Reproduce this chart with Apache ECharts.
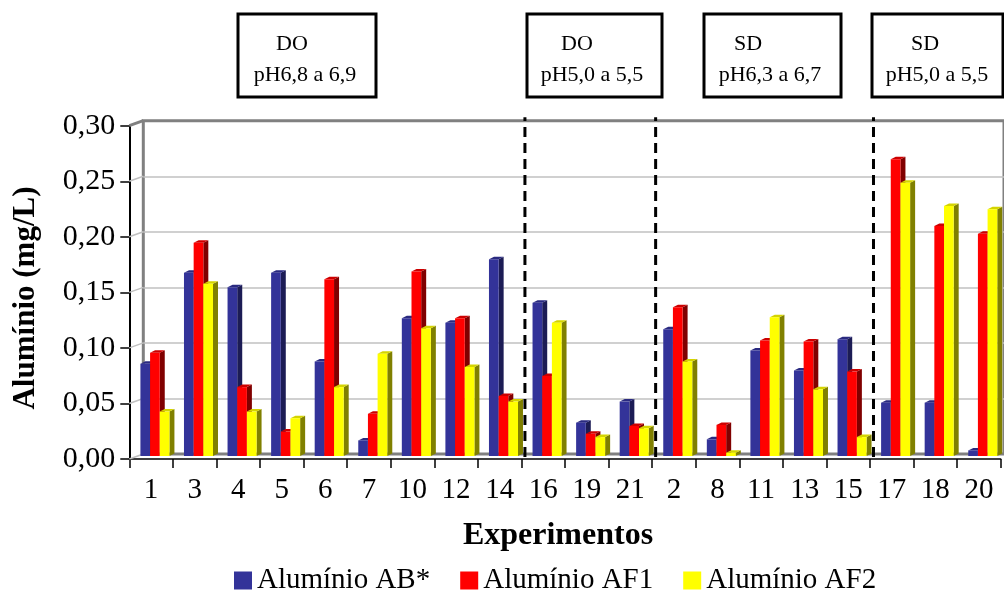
<!DOCTYPE html>
<html>
<head>
<meta charset="utf-8">
<script src="https://cdn.jsdelivr.net/npm/echarts@6/dist/echarts.min.js"></script>
<style>
  html, body { margin: 0; padding: 0; background: #ffffff; }
  #chart { width: 1004px; height: 592px; }
</style>
</head>
<body>
<div id="chart"></div>
<script>
// Experiment order along the x axis
const categories = ['1', '3', '4', '5', '6', '7', '10', '12', '14', '16', '19', '21', '2', '8', '11', '13', '15', '17', '18', '20'];

// Aluminium concentrations (mg/L)
const aluminioAB  = [0.083, 0.165, 0.152, 0.165, 0.085, 0.014, 0.124, 0.120, 0.177, 0.138, 0.030, 0.049, 0.114, 0.015, 0.095, 0.077, 0.105, 0.048, 0.048, 0.005];
const aluminioAF1 = [0.093, 0.192, 0.062, 0.022, 0.159, 0.038, 0.166, 0.124, 0.054, 0.072, 0.020, 0.027, 0.134, 0.028, 0.104, 0.103, 0.076, 0.267, 0.207, 0.200];
const aluminioAF2 = [0.040, 0.155, 0.040, 0.034, 0.062, 0.092, 0.115, 0.080, 0.049, 0.120, 0.017, 0.025, 0.085, 0.003, 0.125, 0.060, 0.017, 0.246, 0.225, 0.222];

const seriesNames = ['Alumínio AB*', 'Alumínio AF1', 'Alumínio AF2'];

// Value axis ticks
const yTickValues = [0, 0.05, 0.10, 0.15, 0.20, 0.25, 0.30];

// Category index where each new experimental group begins
const groupStarts = [9, 12, 17];
// Group captions
const groupTitles = ['DO', 'DO', 'SD', 'SD'];
const groupPH = ['pH6,8 a 6,9', 'pH5,0 a 5,5', 'pH6,3 a 6,7', 'pH5,0 a 5,5'];

const SERIF = "'Liberation Serif', 'Times New Roman', serif";
const DEPTH_X = 14, DEPTH_Y = 5;   // back wall offset
const BAR_DX = 5, BAR_DY = 2.5;    // column depth
const BAR_LIFT = 3;                // columns stand mid-depth on the floor

const palettes = [
  { front: '#333399', side: '#1c1c55', top: '#2a2a80' },
  { front: '#ff0000', side: '#800000', top: '#cc0000' },
  { front: '#ffff00', side: '#808000', top: '#d4d400' }
];

function columnRenderer(s) {
  const pal = palettes[s];
  return function (params, api) {
    const idx = api.value(0);
    const v = api.value(1);
    const base = api.coord([idx, 0]);
    const top = api.coord([idx, v]);
    const bw = api.size([1, 0])[0];
    const w = bw * 0.222;
    const x = base[0] - bw * 0.245 + s * w;
    const y0 = base[1] - BAR_LIFT;
    const y1 = top[1] - BAR_LIFT;
    return {
      type: 'group',
      children: [
        { type: 'polygon', shape: { points: [[x + w, y1], [x + w + BAR_DX, y1 - BAR_DY], [x + w + BAR_DX, y0 - BAR_DY], [x + w, y0]] }, style: { fill: pal.side } },
        { type: 'polygon', shape: { points: [[x, y1], [x + BAR_DX, y1 - BAR_DY], [x + w + BAR_DX, y1 - BAR_DY], [x + w, y1]] }, style: { fill: pal.top } },
        { type: 'rect', shape: { x: x, y: y1, width: w, height: y0 - y1 }, style: { fill: pal.front } }
      ]
    };
  };
}

// Left side wall: diagonals joining the front axis ticks to the back wall
function wallRenderer(params, api) {
  const v = api.value(0);
  const y = api.coord([0, v])[1];
  const x0 = params.coordSys.x;
  const edge = (v === 0.30);
  return {
    type: 'line',
    shape: { x1: x0, y1: y, x2: x0 + DEPTH_X, y2: y - DEPTH_Y },
    style: { stroke: edge ? '#808080' : '#c0c0c0', lineWidth: edge ? 3 : 1.5 }
  };
}

// Dashed separators between experimental groups
function separatorRenderer(params, api) {
  const b = api.value(0);
  const bw = api.size([1, 0])[0];
  const p0 = api.coord([b, 0]);
  const p1 = api.coord([b, 0.30]);
  const x = p0[0] - bw / 2 + 3.5;
  return {
    type: 'line',
    shape: { x1: x, y1: p0[1] - 2, x2: x, y2: p1[1] - 8.5 },
    style: { stroke: '#000', lineWidth: 3, lineDash: [10, 6] }
  };
}

const gridLeft = 129.3, gridTop = 125.7, gridW = 871.4, gridH = 333.3;

const splitColors = yTickValues.map((v, i) => (i === 0 || i === yTickValues.length - 1) ? 'rgba(0,0,0,0)' : '#c0c0c0');

// Caption boxes above the groups
const boxes = [
  { x: 238, w: 138, t: 292, p: 305 },
  { x: 527, w: 135, t: 577, p: 592 },
  { x: 704, w: 137, t: 748, p: 770 },
  { x: 872, w: 131, t: 925, p: 937 }
];
const graphics = [];
boxes.forEach((b, i) => {
  graphics.push({ type: 'rect', shape: { x: b.x, y: 14, width: b.w, height: 83 }, style: { fill: '#fff', stroke: '#000', lineWidth: 3 }, z: 10 });
  graphics.push({ type: 'text', x: b.t, y: 44, style: { text: groupTitles[i], font: '22px ' + SERIF, fill: '#000', textAlign: 'center', textVerticalAlign: 'middle' }, z: 11 });
  graphics.push({ type: 'text', x: b.p, y: 75, style: { text: groupPH[i], font: '22px ' + SERIF, fill: '#000', textAlign: 'center', textVerticalAlign: 'middle' }, z: 11 });
});
graphics.push({ type: 'text', x: 558, y: 536, style: { text: 'Experimentos', font: 'bold 32px ' + SERIF, fill: '#000', textAlign: 'center', textVerticalAlign: 'middle' } });
graphics.push({ type: 'text', x: 26, y: 298, rotation: Math.PI / 2, style: { text: 'Alumínio (mg/L)', font: 'bold 31px ' + SERIF, fill: '#000', textAlign: 'center', textVerticalAlign: 'middle' } });

const chart = echarts.init(document.getElementById('chart'), null, { renderer: 'canvas' });
chart.setOption({
  animation: false,
  backgroundColor: '#ffffff',
  grid: [
    { left: gridLeft, top: gridTop, width: gridW, height: gridH },
    { left: gridLeft + DEPTH_X, top: gridTop - DEPTH_Y, width: gridW, height: gridH, show: true, borderColor: '#808080', borderWidth: 3, backgroundColor: 'rgba(0,0,0,0)' }
  ],
  xAxis: [
    {
      gridIndex: 0, type: 'category', data: categories, boundaryGap: true,
      axisLine: { lineStyle: { color: '#000', width: 1.5 } },
      axisTick: { show: true, interval: 0, length: 9, lineStyle: { color: '#000', width: 1.5 } },
      axisLabel: { interval: 0, margin: 17, color: '#000', fontSize: 29, fontFamily: SERIF },
      splitLine: { show: false }
    },
    { gridIndex: 1, type: 'category', data: categories, show: false }
  ],
  yAxis: [
    {
      gridIndex: 0, type: 'value', min: 0, max: 0.30, interval: 0.05,
      axisLine: { show: true, lineStyle: { color: '#000', width: 2 } },
      axisTick: { show: true, length: 9, lineStyle: { color: '#000', width: 1.5 } },
      axisLabel: { margin: 14, color: '#000', fontSize: 30, fontFamily: SERIF, formatter: v => v.toFixed(2).replace('.', ',') },
      splitLine: { show: false }
    },
    {
      gridIndex: 1, type: 'value', min: 0, max: 0.30, interval: 0.05,
      axisLine: { show: false }, axisTick: { show: false }, axisLabel: { show: false },
      splitLine: { show: true, lineStyle: { color: splitColors, width: 1.5 } }
    }
  ],
  legend: {
    data: seriesNames, left: 229, top: 561, icon: 'rect', itemWidth: 18, itemHeight: 18, itemGap: 30,
    textStyle: { color: '#000', fontSize: 29, fontFamily: SERIF }, selectedMode: false
  },
  graphic: graphics,
  series: [
    { type: 'custom', name: 'wall', xAxisIndex: 0, yAxisIndex: 0, data: yTickValues.map(v => [v]), renderItem: wallRenderer, z: 1, silent: true },
    { type: 'custom', name: seriesNames[0], xAxisIndex: 0, yAxisIndex: 0, itemStyle: { color: palettes[0].front }, data: aluminioAB.map((v, i) => [i, v]), encode: { x: 0, y: 1 }, renderItem: columnRenderer(0), z: 3 },
    { type: 'custom', name: seriesNames[1], xAxisIndex: 0, yAxisIndex: 0, itemStyle: { color: palettes[1].front }, data: aluminioAF1.map((v, i) => [i, v]), encode: { x: 0, y: 1 }, renderItem: columnRenderer(1), z: 3 },
    { type: 'custom', name: seriesNames[2], xAxisIndex: 0, yAxisIndex: 0, itemStyle: { color: palettes[2].front }, data: aluminioAF2.map((v, i) => [i, v]), encode: { x: 0, y: 1 }, renderItem: columnRenderer(2), z: 3 },
    { type: 'custom', name: 'separators', xAxisIndex: 0, yAxisIndex: 0, data: groupStarts.map(b => [b]), renderItem: separatorRenderer, z: 5, silent: true }
  ]
});
</script>
</body>
</html>
